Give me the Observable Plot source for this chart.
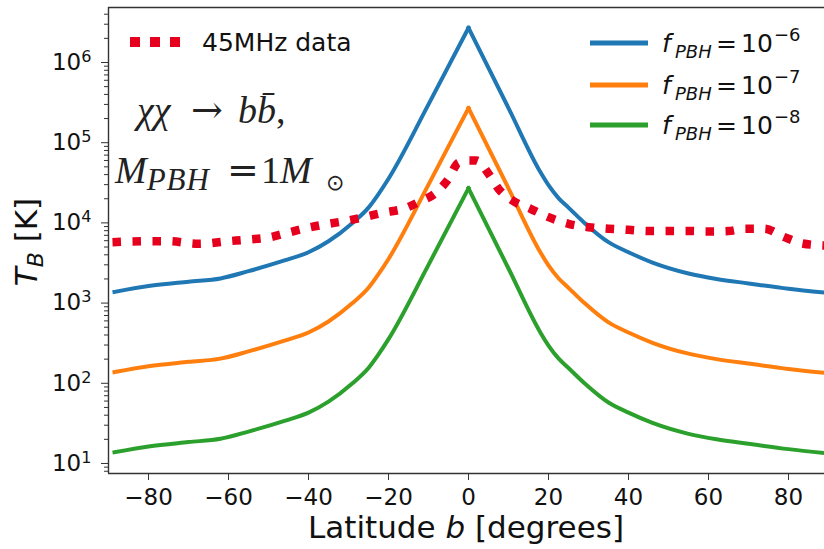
<!DOCTYPE html>
<html><head><meta charset="utf-8">
<script src="https://cdn.jsdelivr.net/npm/d3@7"></script>
<script src="https://cdn.jsdelivr.net/npm/@observablehq/plot@0.6"></script>
<style>
html,body{margin:0;padding:0;background:#fff;overflow:hidden;}
#chart{width:824px;height:549px;overflow:hidden;}
</style></head><body><div id="chart"></div>
<script>
// ---- data ----
const latitudes = [-88.5,-80,-70,-62,-55,-46,-40,-35,-29,-25,-22.5,-20,-10,0,10,18,20,22.5,25,29,35,40,46,55,62,70,80,89];
const tbF6 = [1380,1630,1850,2030,2500,3400,4300,5900,10000,15500,22900,35500,300000,2700000,270000,42700,29500,20400,15500,10000,5750,4300,3200,2340,2000,1760,1510,1350];
const tbF7 = [138,163,185,203,250,340,430,590,1000,1550,2290,3550,30000,270000,27000,4270,2950,2040,1550,1000,575,430,320,234,200,176,151,135];
const tbF8 = [13.8,16.3,18.5,20.3,25,34,43,59,100,155,229,355,3000,27000,2700,427,295,204,155,100,57.5,43,32,23.4,20,17.6,15.1,13.5];
const dataLatitudes = [-89,-80,-75,-67.5,-60,-55,-50,-45,-41,-36,-31,-26,-21,-16,-12.5,-8,-5,-2.5,0,2,5,7.5,11,15.5,20,25,30,35,40,45,50,55,60,65,69,74,79,83.5,89];
const tb45MHz = [5740,5910,5910,5480,5910,6210,6580,7590,8510,9550,10500,11850,13500,15100,18100,24100,35500,56600,60000,60000,41000,26600,19000,15000,11800,9740,8840,8440,8200,7920,7920,7920,7820,7920,8440,8440,6640,5540,5230];
const seriesExponents = ["−6","−7","−8"];
const seriesColors = ["#1f77b4","#ff7f0e","#2ca02c"];
const dataLabel = "45MHz data";
const xTickValues = [-80,-60,-40,-20,0,20,40,60,80];
const yMajorTicks = [1e1,1e2,1e3,1e4,1e5,1e6];
const yExponents = ["1","2","3","4","5","6"];

const yDomain = [7.5, 4.85e6];
const yMinorTicks = [];
for (let k = 0; k <= 6; k++) for (let m = 2; m <= 9; m++) {
  const v = m * Math.pow(10, k);
  if (v >= yDomain[0] && v <= yDomain[1]) yMinorTicks.push(v);
}

// each model curve split into its two monotonic halves (sharing the peak at b = 0)
const toHalves = (xs, ys) => xs.flatMap((b, i) => {
  const r = [];
  if (b <= 0) r.push({b, v: ys[i], side: "south"});
  if (b >= 0) r.push({b, v: ys[i], side: "north"});
  return r;
});
const curves = [tbF6, tbF7, tbF8];

const plot = Plot.plot({
  width: 824, height: 549,
  marginLeft: 108, marginRight: 0, marginTop: 7, marginBottom: 76,
  style: {fontFamily: "DejaVu Sans", color: "#222", background: "#fff"},
  x: {domain: [-90, 89]},
  y: {type: "log", domain: yDomain},
  marks: [
    ...curves.map((c, i) => Plot.line(toHalves(latitudes, c), {x: "b", y: "v", z: "side", curve: "monotone-x",
      stroke: seriesColors[i], strokeWidth: 4, strokeLinejoin: "round", strokeLinecap: "square"})),
    Plot.line(dataLatitudes.map((b, i) => ({b, v: tb45MHz[i]})), {x: "b", y: "v", curve: "monotone-x",
      stroke: "#e6001e", strokeWidth: 8.5, strokeDasharray: "8.5,11.5", strokeLinecap: "butt"}),
    Plot.ruleX([-90], {stroke: "#333", strokeWidth: 1.4}),
    Plot.ruleY(yDomain, {stroke: "#333", strokeWidth: 1.4}),
    Plot.axisX(xTickValues, {tickSize: 7, tickPadding: 8, fontSize: 23, label: null, stroke: "#333", fill: "#111"}),
    Plot.axisY(yMinorTicks, {tickSize: 4, tickFormat: () => "", label: null, stroke: "#333"}),
    Plot.axisY(yMajorTicks, {tickSize: 7, tickPadding: 10, fontSize: 23, label: null, stroke: "#333", fill: "#111",
      tickFormat: d => "10^" + yExponents[yMajorTicks.indexOf(d)]})
  ]
});
document.getElementById("chart").appendChild(plot);

const svg = d3.select(plot);
// superscript exponents on y tick labels
svg.selectAll('g[aria-label="y-axis tick label"] text').each(function() {
  const s = this.textContent; const [base, exp] = s.split("^");
  const t = d3.select(this); t.text("");
  t.append("tspan").text(base);
  t.append("tspan").attr("dy", "-0.5em").attr("font-size", "0.7em").text(exp);
});

function rich(x, y, size, parts, extra = {}) {
  const t = svg.append("text").attr("x", x).attr("y", y).attr("font-size", size)
    .attr("font-family", extra.family || "DejaVu Sans").attr("fill", extra.fill || "#111")
    .attr("text-anchor", extra.anchor || "start");
  if (extra.transform) t.attr("transform", extra.transform);
  for (const p of parts) {
    const ts = t.append("tspan").text(p.text);
    if (p.x != null) ts.attr("x", p.x);
    if (p.dy != null) ts.attr("dy", p.dy);
    if (p.italic) ts.attr("font-style", "italic");
    if (p.size) ts.attr("font-size", p.size);
    if (p.family) ts.attr("font-family", p.family);
    if (p.ls) ts.attr("letter-spacing", p.ls);
  }
  return t;
}

// axis titles
rich(466, 538, 31, [{text: "Latitude "}, {text: "b", italic: true}, {text: " [degrees]"}], {anchor: "middle"});
rich(0, 0, 31, [{text: "T", italic: true}, {text: "B", italic: true, size: 22, dy: 6}, {text: " [K]", dy: -6}],
  {anchor: "middle", transform: "translate(37,242) rotate(-90)"});

// legend: data
svg.append("line").attr("x1", 130).attr("x2", 182).attr("y1", 42).attr("y2", 42)
  .attr("stroke", "#e6001e").attr("stroke-width", 10).attr("stroke-dasharray", "10,10");
rich(202, 51, 25, [{text: dataLabel}]);

// legend: models
const rowsY = [43, 85, 125];
rowsY.forEach((yy, i) => {
  svg.append("line").attr("x1", 590).attr("x2", 648).attr("y1", yy).attr("y2", yy)
    .attr("stroke", seriesColors[i]).attr("stroke-width", 5);
  rich(662, yy + 9, 25, [
    {text: "f", italic: true},
    {text: "PBH", italic: true, size: 18, dy: 6, x: 675},
    {text: "=", x: 716, dy: -6},
    {text: "10", x: 741},
    {text: seriesExponents[i], x: 774, size: 18, dy: -11}
  ]);
});

// annotations
const serif = "Liberation Serif, DejaVu Serif, serif";
rich(137, 123, 38, [
  {text: "χχ", italic: true},
  {text: "→", x: 191, family: "DejaVu Serif"},
  {text: "b", x: 238, italic: true},
  {text: "b\u0304", italic: true},
  {text: ","}
], {family: serif, fill: "#222"});
rich(115, 183, 38, [
  {text: "M", italic: true},
  {text: "PBH", italic: true, size: 31, dy: 7, ls: 1},
  {text: "=", x: 227, dy: -7, family: "DejaVu Serif"},
  {text: "1", x: 261},
  {text: "M", x: 280, italic: true},
  {text: "⊙", x: 326, size: 22, dy: 7, family: "DejaVu Sans"}
], {family: serif, fill: "#222"});
</script></body></html>
